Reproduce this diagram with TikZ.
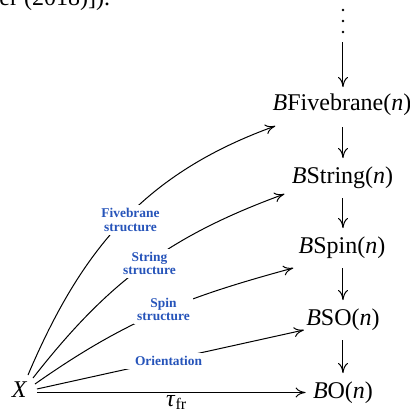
\documentclass[tikz,border=0pt]{standalone}
\usepackage{fontspec}
\setmainfont{Liberation Serif}
\usetikzlibrary{arrows.meta,calc}
\definecolor{lblue}{RGB}{38,84,186}
\begin{document}
\begin{tikzpicture}[x=0.5pt,y=-0.5pt,
  obj/.style={inner sep=0pt,font=\fontsize{12}{14}\selectfont,anchor=base},
  arr/.style={line width=0.5pt,-{To[length=5pt,width=5pt]}},
  lab/.style={font=\fontsize{6.7}{6.9}\selectfont\bfseries,text=lblue,fill=white,inner sep=1.5pt,align=center}]
\clip (0,0) rectangle (410,414);
\node[obj,anchor=base west] (prev) at (-1,5.5) {er (2018)]).};
\node[obj] (BF) at (342,110) {\textit{B}Fivebrane(\textit{n})};
\node[obj] (BS) at (342.5,183) {\textit{B}String(\textit{n})};
\node[obj] (BSp) at (342,253) {\textit{B}Spin(\textit{n})};
\node[obj] (BSO) at (343,325) {\textit{B}SO(\textit{n})};
\node[obj] (BO) at (343,398) {\textit{B}O(\textit{n})};
\node[obj] (X) at (19.5,397) {\textit{X}};
\node[inner sep=0pt,minimum size=1pt] (dots) at (343,21) {};
\foreach \d in {-11,0,11} \fill ($(dots)+(0,\d)$) circle (1.3);
% vertical arrows
\draw[arr] ($(dots)+(0,21)$) -- ($(BF.base)+(1,-23)$);
\draw[arr] ($(BF.base)+(1,17)$) -- ($(BS.base)+(0.5,-25)$);
\draw[arr] ($(BS.base)+(0.5,15)$) -- ($(BSp.base)+(1,-25)$);
\draw[arr] ($(BSp.base)+(1,15)$) -- ($(BSO.base)+(0,-25)$);
\draw[arr] ($(BSO.base)+(0,15)$) -- ($(BO.base)+(0,-25)$);
% horizontal
\draw[arr] ($(X.base)+(17.5,-4.5)$) -- ($(BO.base west)+(-7,-5.5)$)
  node[pos=0.52,below=1pt,inner sep=0pt,font=\fontsize{12}{14}\selectfont] (tau) {\textit{τ}\textsubscript{fr}};
% structure arrows
\draw[arr] ($(X.base)+(8.5,-22)$) .. controls +(54,-127) and +(-130,47) .. ($(BF.base west)+(3,16)$);
\draw[arr] ($(X.base)+(13.5,-19)$) .. controls +(75,-96) and +(-115,42) .. ($(BS.base west)+(-7,11)$);
\draw[arr] ($(X.base)+(15.5,-13)$) .. controls +(91,-64) and +(-107,29) .. ($(BSp.base west)+(-5,15)$);
\draw[arr] ($(X.base)+(17.5,-8)$) -- ($(BSO.base west)+(-2,5)$);
% labels
\node[lab] (lfive) at (130.5,220) {Fivebrane\\structure};
\node[lab] (lstr) at (149.5,263.5) {String\\structure};
\node[lab] (lspin) at (163.5,309.5) {Spin\\structure};
\node[lab,inner xsep=6pt] (lori) at (168.5,361) {Orientation};
\end{tikzpicture}
\end{document}
